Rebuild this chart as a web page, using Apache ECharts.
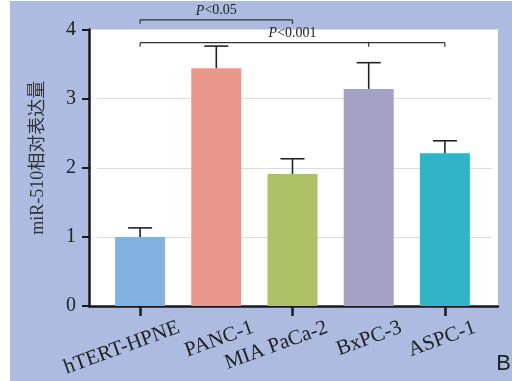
<!DOCTYPE html>
<html>
<head>
<meta charset="utf-8">
<script src="https://cdn.jsdelivr.net/npm/echarts@6/dist/echarts.min.js"></script>
<style>
  html, body { margin: 0; padding: 0; background: #ffffff; }
  #chart { position: absolute; left: 10px; top: 1px; width: 502px; height: 380px; }
</style>
</head>
<body>
<div id="chart"></div>
<script>
// ---- data ----
const categories = ['hTERT-HPNE', 'PANC-1', 'MIA PaCa-2', 'BxPC-3', 'ASPC-1'];
const means = [1.0, 3.44, 1.91, 3.14, 2.21];
const errorTops = [1.13, 3.76, 2.13, 3.52, 2.39];
const barColors = ['#82b3e0', '#e8978a', '#adc166', '#a4a0c6', '#2fb5c5'];
const yTicks = [0, 1, 2, 3, 4];
// significance brackets: from category, to category, level (y value), inner ticks, label
const sigFrom = [0, 0];
const sigTo = [2, 4];
const sigLevel = [4.14, 3.81];
const sigInner = [[], [3]];
const sigLabel = ['<0.05', '<0.001'];

const serif = "'Liberation Serif', 'Times New Roman', 'Noto Sans CJK SC', serif";
const ink = '#1a1a1a';

const chart = echarts.init(document.getElementById('chart'), null, { renderer: 'canvas' });

const errData = categories.map((c, i) => [i, means[i], errorTops[i]]);
const sigData = sigFrom.map((f, i) => [f, sigTo[i], sigLevel[i], i]);

const barGridLeft = 92, barGridWidth = 381, labelShift = 40;

const option = {
  backgroundColor: '#adbbe0',
  animation: false,
  grid: [
    { left: 79, right: 14, top: 28.5, bottom: 75, show: true, backgroundColor: '#ffffff', borderWidth: 0 },
    { left: barGridLeft, width: barGridWidth, top: 28.5, bottom: 75 },
    { left: 87, right: 20, top: 28.5, bottom: 75 },
    { left: barGridLeft + labelShift, width: barGridWidth, top: 28.5, bottom: 75 }
  ],
  xAxis: [
    { gridIndex: 0, type: 'value', min: 0, max: 1,
      axisLine: { show: true, lineStyle: { color: ink, width: 2.5 } },
      axisTick: { show: false }, axisLabel: { show: false }, splitLine: { show: false } },
    { gridIndex: 1, type: 'category', data: categories,
      axisLine: { show: false },
      axisTick: { show: true, alignWithLabel: true, length: 10, lineStyle: { color: ink, width: 2.5 } },
      axisLabel: { show: false } },
    { gridIndex: 2, type: 'value', min: 0, max: 1, show: false },
    { gridIndex: 3, type: 'category', data: categories,
      axisLine: { show: false }, axisTick: { show: false },
      axisLabel: { rotate: 20, align: 'right', verticalAlign: 'middle', fontFamily: serif, fontSize: 21,
                   color: '#222', margin: 21, interval: 0 } }
  ],
  yAxis: [
    { gridIndex: 0, type: 'value', min: yTicks[0], max: yTicks[yTicks.length - 1], interval: 1,
      name: 'miR-510相对表达量', nameLocation: 'middle', nameGap: 42, nameRotate: 90,
      nameTextStyle: { fontFamily: serif, fontSize: 18, color: '#333', padding: [0, 0, 0, 20] },
      axisLine: { show: true, lineStyle: { color: ink, width: 2.5 } },
      axisTick: { show: true, length: 7, lineStyle: { color: ink, width: 2 } },
      axisLabel: { fontFamily: serif, fontSize: 20, color: '#222', margin: 13 },
      splitLine: { show: false } },
    { gridIndex: 1, type: 'value', min: 0, max: 4, interval: 1, show: false },
    { gridIndex: 2, type: 'value', min: 0, max: 4, interval: 1,
      axisLine: { show: false }, axisTick: { show: false }, axisLabel: { show: false },
      splitLine: { show: true, lineStyle: { color: ['transparent', '#dcdcdc', '#dcdcdc', '#dcdcdc', 'transparent'], width: 1 } } },
    { gridIndex: 3, type: 'value', min: 0, max: 4, show: false }
  ],
  series: [
    {
      type: 'bar', xAxisIndex: 1, yAxisIndex: 1, barWidth: 50, z: 3,
      data: means.map((v, i) => ({ value: v, itemStyle: { color: barColors[i] } }))
    },
    {
      type: 'custom', xAxisIndex: 1, yAxisIndex: 1, z: 4,
      data: errData,
      renderItem: function (params, api) {
        const x = api.value(0);
        const base = api.coord([x, api.value(1)]);
        const top = api.coord([x, api.value(2)]);
        const half = 12;
        const style = { stroke: '#222', lineWidth: 1.6 };
        return {
          type: 'group',
          children: [
            { type: 'line', shape: { x1: base[0], y1: base[1], x2: top[0], y2: top[1] }, style: style },
            { type: 'line', shape: { x1: top[0] - half, y1: top[1], x2: top[0] + half, y2: top[1] }, style: style }
          ]
        };
      }
    },
    {
      type: 'custom', xAxisIndex: 1, yAxisIndex: 1, z: 5, clip: false,
      data: sigData,
      renderItem: function (params, api) {
        const i = api.value(3);
        const y = api.value(2);
        const p1 = api.coord([api.value(0), y]);
        const p2 = api.coord([api.value(1), y]);
        const drop = 4;
        const style = { stroke: '#333', lineWidth: 1.2 };
        const children = [
          { type: 'line', shape: { x1: p1[0], y1: p1[1], x2: p2[0], y2: p2[1] }, style: style },
          { type: 'line', shape: { x1: p1[0], y1: p1[1], x2: p1[0], y2: p1[1] + drop }, style: style },
          { type: 'line', shape: { x1: p2[0], y1: p2[1], x2: p2[0], y2: p2[1] + drop }, style: style }
        ];
        sigInner[i].forEach(function (c) {
          const pm = api.coord([c, y]);
          children.push({ type: 'line', shape: { x1: pm[0], y1: pm[1], x2: pm[0], y2: pm[1] + drop }, style: style });
        });
        children.push({
          type: 'text',
          style: {
            x: (p1[0] + p2[0]) / 2, y: p1[1] - 2,
            text: '{i|P}{n|' + sigLabel[i] + '}',
            align: 'center', verticalAlign: 'bottom',
            rich: {
              i: { fontFamily: serif, fontSize: 14, fontStyle: 'italic', fill: '#222' },
              n: { fontFamily: serif, fontSize: 14, fill: '#222' }
            }
          }
        });
        return { type: 'group', children: children };
      }
    }
  ],
  graphic: [
    { type: 'text', right: 1, bottom: 6,
      style: { text: 'B', fontFamily: "'Liberation Sans', Arial, sans-serif", fontSize: 22, fill: '#222' } }
  ]
};
chart.setOption(option);
</script>
</body>
</html>
